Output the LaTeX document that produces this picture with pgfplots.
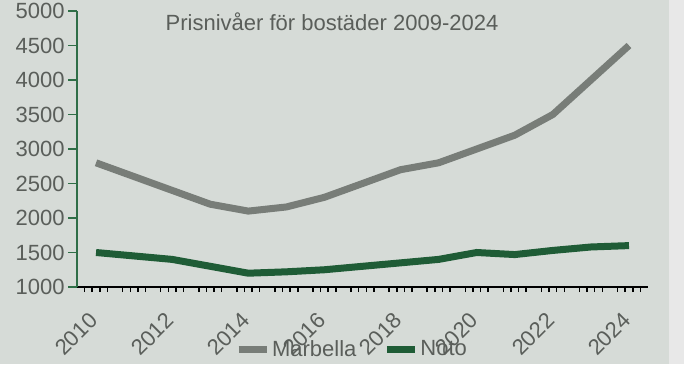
\documentclass[border=0pt]{standalone}
\usepackage{fontspec}
\setmainfont{Liberation Sans}
\usepackage{pgfplots}
\pgfplotsset{compat=1.18}
\definecolor{bg}{HTML}{D6DBD7}
\definecolor{strip}{HTML}{E8E8E8}
\definecolor{marb}{HTML}{787D78}
\definecolor{noto}{HTML}{1F5C36}
\definecolor{yax}{HTML}{2F6E47}
\definecolor{txt}{HTML}{5A5E5A}
\begin{document}
\begin{tikzpicture}[x=1bp,y=1bp]
\fill[strip] (0,0) rectangle (684,364);
\fill[bg] (0,0) rectangle (669,364);
\useasboundingbox (0,0) rectangle (684,364);
\begin{axis}[
  at={(77bp,77bp)}, anchor=south west,
  scale only axis, width=571bp, height=276bp,
  xmin=2009.5, xmax=2024.5, ymin=1000, ymax=5000,
  axis x line*=bottom, axis y line*=left,
  x axis line style={black, line width=1.8bp},
  y axis line style={yax, line width=1.8bp},
  tick align=outside,
  xtick={2010,2012,2014,2016,2018,2020,2022,2024},
  xticklabels={2010,2012,2014,2016,2018,2020,2022,2024},
  major x tick style={draw=none},
  minor xtick={2009.7,2009.9,2010.1,2010.3,2010.7,2010.9,2011.1,2011.3,2011.7,2011.9,2012.1,2012.3,2012.7,2012.9,2013.1,2013.3,2013.7,2013.9,2014.1,2014.3,2014.7,2014.9,2015.1,2015.3,2015.7,2015.9,2016.1,2016.3,2016.7,2016.9,2017.1,2017.3,2017.7,2017.9,2018.1,2018.3,2018.7,2018.9,2019.1,2019.3,2019.7,2019.9,2020.1,2020.3,2020.7,2020.9,2021.1,2021.3,2021.7,2021.9,2022.1,2022.3,2022.7,2022.9,2023.1,2023.3,2023.7,2023.9,2024.1,2024.3},
  minor x tick style={black, line width=1.5bp},
  minor tick length=5bp,
  major tick length=9bp,
  ytick={1000,1500,...,5000},
  y tick style={yax, line width=1.8bp},
  yticklabel style={font=\fontsize{22bp}{26bp}\selectfont, text=txt},
  xticklabel style={font=\fontsize{22bp}{26bp}\selectfont, text=txt, rotate=45, anchor=east, xshift=-13bp, yshift=-13bp},
  /pgf/number format/assume math mode=true,
  /pgf/number format/1000 sep={},
  legend style={at={(0.4816,-0.225)}, anchor=center, draw=none, fill=none,
    font=\fontsize{22bp}{26bp}\selectfont, text=txt,
    /tikz/every even column/.append style={column sep=25bp},
    inner sep=0pt},
  legend columns=2,
  legend cell align=left,
  legend image code/.code={\draw[#1] (0bp,0bp) -- (28bp,0bp);},
]
\addplot[marb, line width=7bp] coordinates {
(2010,2800) (2011,2600) (2012,2400) (2013,2200) (2014,2100) (2015,2160) (2016,2300) (2017,2500) (2018,2700) (2019,2800) (2020,3000) (2021,3200) (2022,3500) (2023,4000) (2024,4500)};
\addlegendentry{Marbella}
\addplot[noto, line width=7bp] coordinates {
(2010,1500) (2011,1450) (2012,1400) (2013,1300) (2014,1200) (2015,1220) (2016,1250) (2017,1300) (2018,1350) (2019,1400) (2020,1500) (2021,1470) (2022,1530) (2023,1580) (2024,1600)};
\addlegendentry{Noto}
\node[font=\fontsize{22bp}{26bp}\selectfont, text=txt] at (rel axis cs:0.4466,0.960) {Prisnivåer för bostäder 2009-2024};
\end{axis}
\end{tikzpicture}
\end{document}
